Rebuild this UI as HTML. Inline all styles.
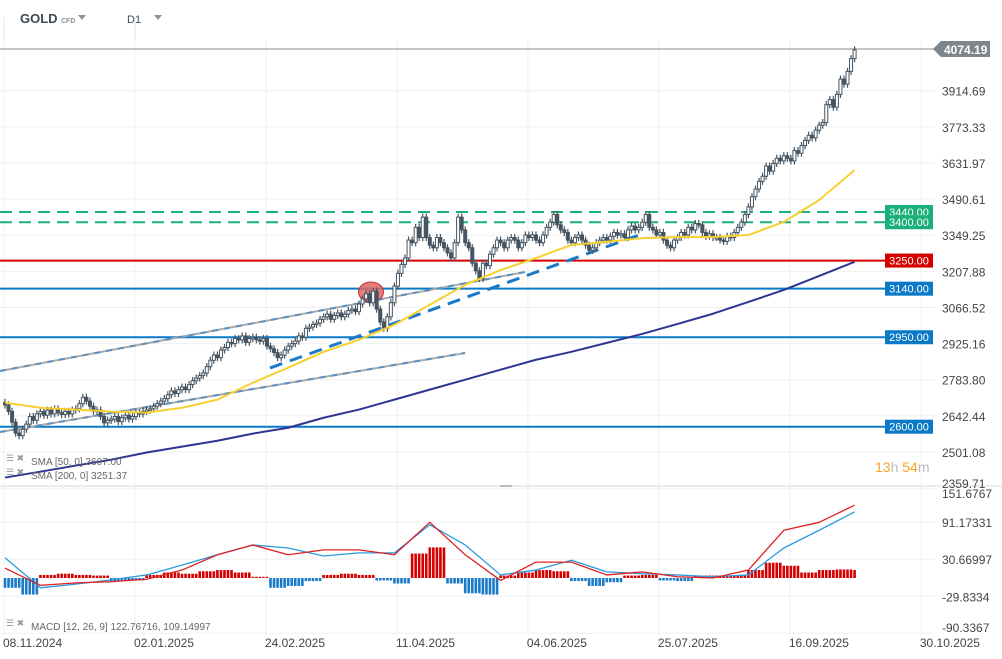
<!DOCTYPE html>
<html><head><meta charset="utf-8"><style>
html,body{margin:0;padding:0;background:#fff;}
svg{display:block;font-family:"Liberation Sans",sans-serif;}
</style></head><body>
<svg id="chart" width="1002" height="659" viewBox="0 0 1002 659" xmlns="http://www.w3.org/2000/svg">
<g>
<line x1="4" y1="17" x2="4" y2="40" stroke="#e6e6e6"/>
<line x1="135" y1="17" x2="135" y2="40" stroke="#e6e6e6"/>
<text x="20" y="23" font-size="13" font-weight="bold" fill="#3d4a55">GOLD</text>
<text x="61" y="23" font-size="7" font-weight="bold" fill="#8a949c">CFD</text>
<path d="M78 15 L86 15 L82 20 Z" fill="#8a949c"/>
<text x="127" y="23" font-size="11" fill="#3d4a55">D1</text>
<path d="M154 15 L162 15 L158 20 Z" fill="#8a949c"/>
</g>
<g id="grid"></g>
<g id="levels"></g>
<g id="trend"></g>
<g id="candles"></g>
<g id="smas"></g>
<g id="macd"></g>
<g id="axes"></g>
<g font-size="10" fill="#666">
<text x="6" y="461" fill="#999" font-size="9">☰ ✖</text>
<text x="31" y="465">SMA  [50,  0]  3607.00</text>
<text x="6" y="475" fill="#999" font-size="9">☰ ✖</text>
<text x="31" y="479">SMA  [200,  0]  3251.37</text>
<text x="6" y="626" fill="#999" font-size="9">☰ ✖</text>
<text x="31" y="630">MACD  [12,  26,  9]  122.76716,   109.14997</text>
</g>
<text x="875" y="472" font-size="14"><tspan fill="#f5a623">13</tspan><tspan fill="#bbb">h </tspan><tspan fill="#f5a623">54</tspan><tspan fill="#bbb">m</tspan></text>
</svg>
<script>
const closes=[2685,2660,2618,2575,2565,2590,2610,2640,2625,2650,
2660,2645,2665,2650,2670,2655,2648,2660,2650,2665,
2670,2690,2715,2700,2680,2660,2665,2640,2615,2625,
2630,2640,2620,2635,2645,2630,2640,2655,2650,2660,
2665,2670,2680,2690,2700,2710,2725,2740,2730,2745,
2755,2745,2765,2780,2790,2800,2810,2835,2860,2880,
2870,2900,2910,2930,2925,2945,2940,2955,2930,2945,
2950,2940,2935,2945,2915,2905,2890,2870,2880,2900,
2915,2925,2935,2955,2950,2985,2990,3000,3005,3020,
3030,3040,3020,3035,3045,3030,3040,3055,3060,3050,
3080,3100,3120,3085,3130,3060,3010,2985,3030,3085,
3150,3200,3235,3260,3330,3320,3380,3340,3420,3340,
3310,3300,3340,3320,3300,3280,3260,3320,3420,3370,
3320,3300,3240,3210,3180,3240,3230,3275,3300,3330,
3320,3300,3330,3340,3330,3300,3320,3350,3340,3350,
3330,3320,3350,3380,3400,3430,3390,3370,3360,3330,
3320,3340,3350,3330,3310,3290,3300,3320,3330,3340,
3330,3345,3360,3350,3355,3340,3370,3385,3370,3380,
3400,3430,3380,3370,3350,3360,3330,3310,3300,3330,
3340,3360,3350,3380,3370,3395,3390,3360,3345,3355,
3340,3340,3330,3325,3345,3340,3360,3380,3400,3430,
3460,3500,3530,3560,3580,3620,3600,3630,3650,3640,
3660,3650,3640,3680,3670,3700,3720,3740,3730,3760,
3780,3790,3860,3880,3850,3900,3960,3940,3990,4040,
4074];
const sma50=[2694,2674,2667,2659,2655,2674,2706,2772,2831,2893,2940,2999,3077,3155,3213,3260,3311,3323,3338,3342,3342,3350,3401,3487,3604];
const sma200=[2401,2424,2448,2471,2499,2522,2545,2573,2596,2635,2667,2706,2745,2784,2823,2862,2893,2928,2963,3002,3042,3088,3135,3190,3245];
const macdLine=[16,-12,-8,-6,-2,13,38,54,38,46,46,38,91,38,-4,26,26,5,10,2,0,13,78,91,119];
const signalLine=[33,-16,-10,-3,5,21,38,54,49,36,41,41,87,54,5,13,29,10,7,5,2,5,49,78,108];
const hist=[-16,-27,5,7,5,4,-5,-4,5,9,7,11,13,9,2,-16,-13,-5,5,7,5,-4,-9,40,50,-9,-25,-27,4,9,13,11,-5,-13,-7,4,5,-4,-5,4,4,4,13,25,20,9,13,14,13];
const priceTicks=[4074.19,3914.69,3773.33,3631.97,3490.61,3349.25,3207.88,3066.52,2925.16,2783.80,2642.44,2501.08,2359.71];
const macdTicks=[151.6767,91.17331,30.66997,-29.8334,-90.3367];
const dateLabels=["08.11.2024","02.01.2025","24.02.2025","11.04.2025","04.06.2025","25.07.2025","16.09.2025","30.10.2025"];
const dateIdx=[0,37,74,111,148,185,222,259];
const levelValues=[3440,3400,3250,3140,2950,2600];
const levelColors=["#1ab07a","#1ab07a","#d40000","#0a7ac6","#0a7ac6","#0a7ac6"];
const levelDashed=[true,true,false,false,false,false];

const NS="http://www.w3.org/2000/svg";
const X=i=>5+i*3.54;
const Y=v=>212+(3440-v)*0.2556;
const MY=v=>578-v*0.612;
function mk(tag,attrs,parent){const e=document.createElementNS(NS,tag);for(const k in attrs)e.setAttribute(k,attrs[k]);parent.appendChild(e);return e;}
const G=id=>document.getElementById(id);

const grid=G('grid');
priceTicks.slice(1).forEach(v=>{const l=mk('line',{x1:0,x2:935,y1:Y(v),y2:Y(v),stroke:'#f0f0f0'},grid);

});
macdTicks.slice(1).forEach(v=>{const l=mk('line',{x1:0,x2:935,y1:MY(v),y2:MY(v),stroke:'#f0f0f0'},grid);

});
dateIdx.forEach(i=>{const l=mk('line',{x1:X(i)-1,x2:X(i)-1,y1:40,y2:635,stroke:'#f0f0f0'},grid);

});
mk('line',{x1:0,x2:1002,y1:486,y2:486,stroke:'#d8d8d8'},grid);
mk('rect',{x:500,y:485,width:12,height:2,fill:'#bbb'},grid);

const lv=G('levels');
levelValues.forEach((v,k)=>{const y=Y(v);
const l=mk('line',{x1:0,x2:885,y1:y,y2:y,stroke:levelColors[k],'stroke-width':2},lv);
if(levelDashed[k])l.setAttribute('stroke-dasharray','12 7');


const r=mk('rect',{x:885,y:y-7,width:48,height:14,fill:levelColors[k]},lv);


const t=mk('text',{x:909,y:y+4,'font-size':11,fill:'#fff','text-anchor':'middle'},lv);t.textContent=v.toFixed(2);

});
const lastY=Y(closes[closes.length-1]);
mk('line',{x1:0,x2:935,y1:lastY-1,y2:lastY-1,stroke:'#888','stroke-width':1},lv);

const tr=G('trend');
[[0,371,525,272],[0,432,465,353]].forEach((c,k)=>{
mk('line',{x1:c[0],y1:c[1],x2:c[2],y2:c[3],stroke:'#aaa','stroke-width':2},tr);
const l=mk('line',{x1:c[0],y1:c[1],x2:c[2],y2:c[3],stroke:'#5a8fc0','stroke-width':2,'stroke-dasharray':'6 6'},tr);

});
const tl=mk('line',{x1:270,y1:368,x2:642,y2:234,stroke:'#1a7ac8','stroke-width':3,'stroke-dasharray':'13 8'},tr);


const el=mk('ellipse',{cx:371,cy:292,rx:12.5,ry:10,fill:'#e06666','fill-opacity':0.85,stroke:'#c03030'},tr);



const cg=G('candles');
closes.forEach((c,i)=>{const o=i?closes[i-1]:c+10;const hi=Math.max(o,c)+14,lo=Math.min(o,c)-14;
const x=X(i),up=c>=o;
mk('line',{x1:x,x2:x,y1:Y(hi),y2:Y(lo),stroke:'#465561','stroke-width':1.2},cg);
const r=mk('rect',{x:x-1.5,y:Y(Math.max(o,c)),width:3,height:Math.max(1.5,Math.abs(Y(o)-Y(c))),fill:up?'#fff':'#465561',stroke:'#465561','stroke-width':1},cg);

});

const sg=G('smas');
function poly(arr,yf,col,w,g,name){const p=mk('polyline',{points:arr.map((v,k)=>X(k*10)+','+yf(v)).join(' '),fill:'none',stroke:col,'stroke-width':w,'stroke-linejoin':'round'},g);

}
poly(sma200,Y,'#2e3593',2,sg,'sma200-line');
poly(sma50,Y,'#f7d030',2,sg,'sma50-line');

const mg=G('macd');
hist.forEach((h,k)=>{for(let j=0;j<5;j++){const i=k*5+j;if(i>240)break;
const r=mk('rect',{x:X(i)-1.3,y:Math.min(MY(0),MY(h)),width:2.6,height:Math.max(1,Math.abs(MY(h)-MY(0))),fill:h>=0?'#d40000':'#1a7ac8'},mg);

}});
poly(signalLine,MY,'#2b9be0',1.3,mg,'macd-signal-line');
poly(macdLine,MY,'#e02020',1.3,mg,'macd-line');

const ax=G('axes');
priceTicks.slice(1).forEach((v,k)=>{const last=k===priceTicks.length-2;
const t=mk('text',{x:942,y:last?488:Y(v)+5,'font-size':12,fill:'#444'},ax);t.textContent=v.toFixed(2);

});
macdTicks.forEach((v,k)=>{const t=mk('text',{x:942,y:k===0?498:(k===macdTicks.length-1?632:MY(v)+5),'font-size':12,fill:'#444'},ax);t.textContent=String(v);

});
const pb=mk('path',{d:`M933 ${lastY-1} L941 ${lastY-9} L990 ${lastY-9} L990 ${lastY+7} L941 ${lastY+7} Z`,fill:'#7d868c'},ax);


const pt=mk('text',{x:944,y:lastY+4,'font-size':12,'font-weight':'bold',fill:'#fff'},ax);pt.textContent=closes[closes.length-1]===4074?'4074.19':closes[closes.length-1].toFixed(2);


dateLabels.forEach((d,k)=>{const t=mk('text',{x:X(dateIdx[k])-2,y:647,'font-size':12,fill:'#444'},ax);t.textContent=d;

});
</script>
</body></html>
